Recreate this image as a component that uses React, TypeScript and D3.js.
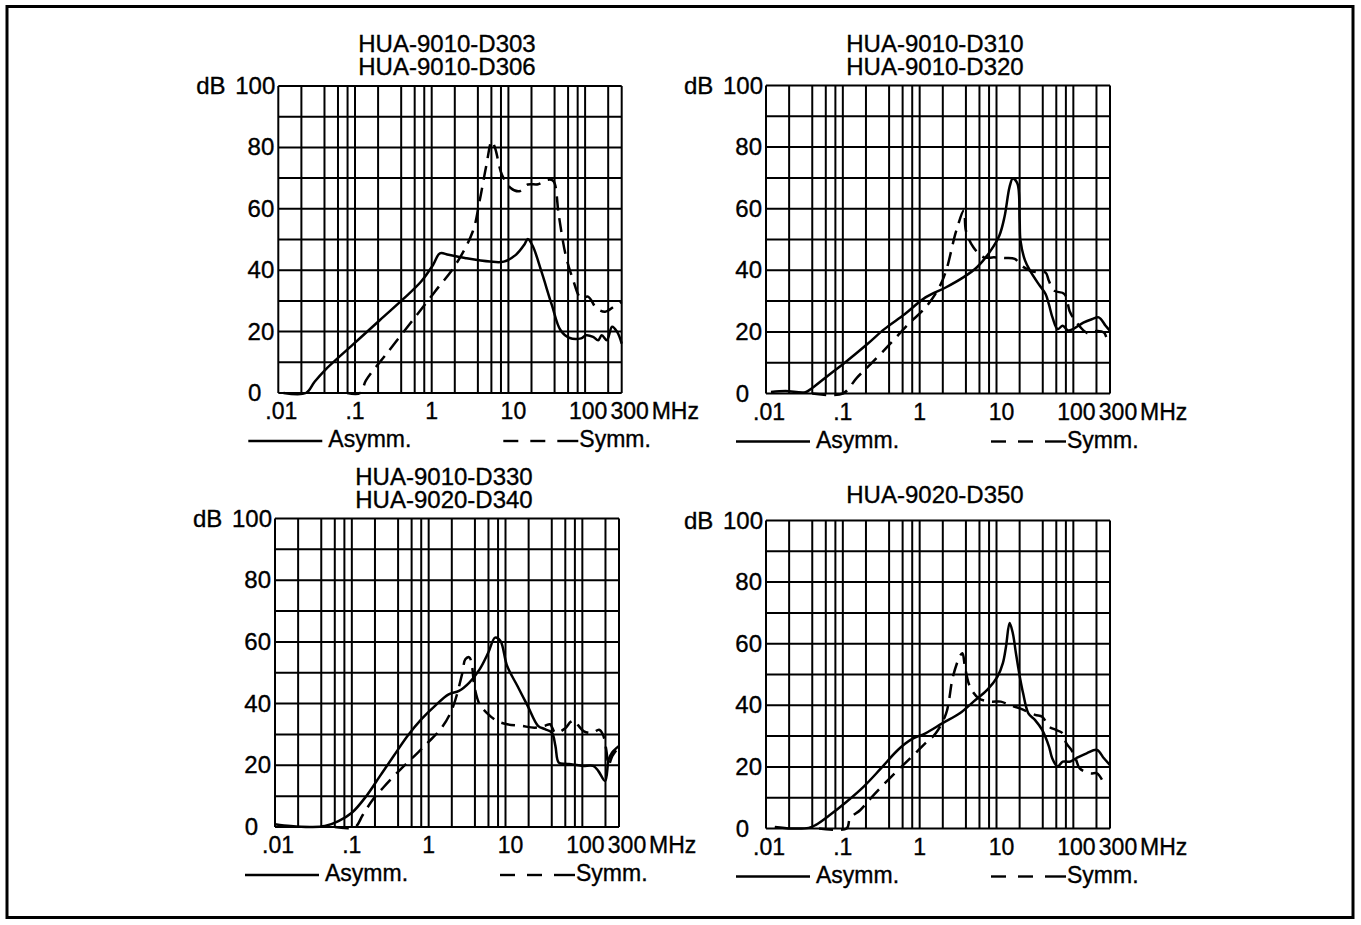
import React from "react";
import * as d3 from "d3";

type Pt = [number, number];

// ---------- Data (frequency MHz, attenuation dB) ----------
const xTickValues = [0.01, 0.1, 1, 10, 100, 300];
const xTickLabels = [".01", ".1", "1", "10", "100", "300"];
const yTickValues = [0, 20, 40, 60, 80];
const gridMultipliers = [1, 2, 4, 6, 8];
const gridDecades = [0.01, 0.1, 1, 10, 100];

const titles1 = ["HUA-9010-D303", "HUA-9010-D306"];
const titles2 = ["HUA-9010-D310", "HUA-9010-D320"];
const titles3 = ["HUA-9010-D330", "HUA-9020-D340"];
const titles4 = ["HUA-9020-D350"];

const asymm1: Pt[] = [
  [0.0117, 0], [0.0229, 0], [0.0296, 3.6], [0.0404, 7.4], [0.0922, 15.6], [0.21, 23.7],
  [0.434, 30.8], [0.728, 36.3], [1.04, 41.7], [1.28, 45.5], [1.66, 45], [2.79, 43.9],
  [5.74, 42.8], [8.7, 42.8], [12.5, 45], [16.1, 48.3], [17.9, 50.2], [20.9, 47.7],
  [27, 39.5], [36.9, 28.6], [47.7, 20.5], [61.8, 18], [88.7, 17.8], [103, 18.8],
  [127, 18.3], [148, 17.2], [165, 18.8], [192, 17.2], [225, 21.6], [262, 19.9], [300, 16.1],
];
const symm1: Pt[] = [
  [0.079, 0], [0.117, 0], [0.139, 4.1], [0.26, 12.9], [0.59, 24.3], [1.1, 33], [2.04, 41.7],
  [3.43, 52.6], [4.2, 62.4], [5.18, 74.4], [6.05, 82], [6.7, 79.8], [8.24, 71.1],
  [10.7, 66.8], [13.8, 65.7], [17.9, 67.9], [24.4, 68], [33.2, 69.5], [38.7, 69],
  [45.3, 58], [55.7, 45], [68.5, 37.4], [88.7, 30.8], [109, 31.4], [141, 27.6],
  [183, 26.5], [237, 28.1], [300, 29.7],
];

const asymm2: Pt[] = [
  [0.0116, 0.5], [0.018, 0.8], [0.0326, 0.4], [0.04, 1.8], [0.067, 6.2], [0.112, 10.5],
  [0.207, 16], [0.347, 20.9], [0.643, 25.8], [1.19, 31.2], [2.21, 34.5], [3.69, 37.7],
  [5.57, 41], [8.4, 46.4], [10.9, 51.3], [12.7, 57.3], [14.8, 67.1], [16.3, 69.8],
  [18.7, 68.2], [20, 56.2], [20.5, 49.7], [23.5, 43.2], [27.3, 39.9], [35.4, 35.5],
  [43.5, 32.3], [48, 29], [53.5, 24.7], [62.5, 20.9], [72.7, 22], [84.9, 20.5],
  [99, 20.9], [135, 23], [174, 24.1], [214, 24.7], [263, 22], [300, 20.3],
];
const symm2: Pt[] = [
  [0.04, 0], [0.1, 0], [0.152, 5.1], [0.23, 9.5], [0.426, 16.5], [0.71, 22.5],
  [1.19, 27.9], [1.8, 34.5], [2.21, 39.9], [3.0, 52.9], [3.77, 59.5], [4.0, 52.9],
  [5.0, 47.5], [6.84, 44.2], [9.3, 44.2], [12.7, 44], [17.3, 43.7], [21.2, 41.5],
  [27.3, 39.9], [35.4, 39.3], [43.5, 39.3], [48, 36.6], [56.2, 33.4], [76.6, 32.3],
  [89.3, 26.8], [99, 24.7], [135, 20.5], [157, 19.5], [203, 20.3], [250, 19.8],
  [277, 17.6], [300, 17],
];

const asymm3: Pt[] = [
  [0.01, 0.9], [0.016, 0.3], [0.0295, 0], [0.0446, 0.3], [0.067, 1.9], [0.1, 4.6],
  [0.154, 10], [0.232, 16.5], [0.35, 23], [0.53, 29.5], [0.8, 34.9], [1.2, 39.2],
  [1.82, 43], [2.48, 44.1], [3.38, 46.8], [4.6, 51.1], [5.96, 56.5], [7.33, 61.4],
  [8.6, 60.3], [10.5, 52.2], [14.3, 45.7], [19.5, 39.2], [26.5, 32.8], [32.6, 31.7],
  [40.1, 30.6], [44.6, 26.3], [49.3, 20.9], [60.6, 20.5], [74.5, 20.3], [101, 19.8],
  [138, 19.8], [161, 18.2], [198, 14.9], [220, 21.9], [243, 24.1], [300, 26.3],
];
const symm3: Pt[] = [
  [0.06, 0], [0.11, 0], [0.138, 3.8], [0.189, 9], [0.257, 12.8], [0.43, 18.7],
  [0.65, 23], [0.98, 27.4], [1.48, 32.2], [2.02, 38.2], [2.75, 50], [3.0, 54.4],
  [3.38, 55], [3.66, 52.2], [3.93, 45.7], [4.6, 39.8], [5.66, 37.1], [7.7, 34.4],
  [10.5, 33.3], [15.9, 32.8], [24, 32.2], [32.6, 32.8], [38, 33.3], [44.6, 30.6],
  [60, 32], [70, 34], [78, 34.5], [88, 33], [105, 31], [135, 30.5], [165, 31.5],
  [185, 30], [205, 25], [220, 20], [245, 23], [300, 26],
];

const asymm4: Pt[] = [
  [0.013, 0.5], [0.0216, 0], [0.036, 0.2], [0.044, 1.1], [0.067, 4.3], [0.112, 8.7],
  [0.187, 13.6], [0.313, 19.5], [0.52, 25.5], [0.79, 29], [1.19, 30.9], [1.99, 34.2],
  [3.33, 37.4], [5.02, 41.2], [7.57, 45], [10.3, 49.3], [12.1, 53.7], [13.3, 59.1],
  [14.8, 66.7], [16.3, 63.4], [17.9, 56.9], [20.1, 49.3], [22.2, 43.9], [26, 37.4],
  [31.8, 35.2], [39.3, 32], [48.2, 26.6], [53.1, 22.8], [62.4, 20.1], [72.8, 21.7],
  [89.3, 21.7], [109, 22.8], [149, 24.4], [203, 25.5], [250, 22.8], [300, 20.6],
];
const symm4: Pt[] = [
  [0.049, 0], [0.112, 0], [0.124, 3.3], [0.169, 6], [0.23, 9.8], [0.426, 16.8],
  [0.79, 23.3], [1.19, 27.7], [1.62, 30.9], [2.21, 37.4], [2.71, 49.3], [3.33, 55.9],
  [3.6, 56.9], [3.88, 52.6], [4.5, 46.1], [5.86, 42.3], [8.4, 41.2], [11.4, 41.2],
  [14.8, 40.1], [20.1, 39], [31.8, 36.9], [39.3, 36.3], [48.2, 33.1], [59.5, 32],
  [72.8, 30.9], [80.8, 27.7], [94.2, 25.5], [109, 22.2], [121, 19.5], [165, 17.9],
  [203, 17.9], [238, 15.7],
];

// ---------- Layout ----------
const panels = [
  { left: 278.3, right: 621.7, top: 86, bottom: 393, titles: titles1, asymm: asymm1, symm: symm1 },
  { left: 766, right: 1110, top: 85.5, bottom: 393.5, titles: titles2, asymm: asymm2, symm: symm2 },
  { left: 275, right: 619, top: 518.5, bottom: 827, titles: titles3, asymm: asymm3, symm: symm3 },
  { left: 766, right: 1110, top: 520.5, bottom: 828.5, titles: titles4, asymm: asymm4, symm: symm4 },
];

const FONT = "'Liberation Sans', Arial, Helvetica, sans-serif";
const TXT = { fontFamily: FONT, fill: "#000", stroke: "#000", strokeWidth: 0.35 };

function gridFreqs(): number[] {
  const out: number[] = [];
  gridDecades.forEach((d) => gridMultipliers.forEach((m) => {
    const v = d * m;
    if (v <= 300) out.push(v);
  }));
  out.push(300);
  return out;
}

const xLabelDx = [3, 0, 0, 5, 3, 8];

function Panel({ p }: { p: (typeof panels)[number] }) {
  const x = d3.scaleLog().domain([0.01, 300]).range([p.left, p.right]);
  const y = d3.scaleLinear().domain([0, 100]).range([p.bottom, p.top]);
  const line = d3
    .line<Pt>()
    .x((d) => x(d[0]))
    .y((d) => y(d[1]))
    .curve(d3.curveCatmullRom.alpha(0.5));
  const cx = (p.left + p.right) / 2 - 3;
  const hLines = d3.range(0, 101, 10);
  const vLines = gridFreqs();
  const legY = p.bottom + 48;
  const tCount = p.titles.length;
  return (
    <g>
      {p.titles.map((t, i) => (
        <text
          key={t}
          x={cx}
          y={p.top - (tCount === 1 ? 18 : 34 - i * 23)}
          textAnchor="middle"
          fontSize={24}
          {...TXT}
        >
          {t}
        </text>
      ))}
      {hLines.map((v) => (
        <line key={"h" + v} x1={p.left} x2={p.right} y1={y(v)} y2={y(v)} stroke="#000" strokeWidth={2} />
      ))}
      {vLines.map((v) => (
        <line key={"v" + v} x1={x(v)} x2={x(v)} y1={p.top} y2={p.bottom} stroke="#000" strokeWidth={2} />
      ))}
      <path d={line(p.asymm) || ""} fill="none" stroke="#000" strokeWidth={2.5} strokeLinejoin="round" />
      <path
        d={line(p.symm) || ""}
        fill="none"
        stroke="#000"
        strokeWidth={2.5}
        strokeDasharray="14 8"
        strokeLinejoin="round"
      />
      {yTickValues.map((v) => (
        <text
          key={"y" + v}
          x={v === 0 ? p.left - 17 : p.left - 4}
          y={y(v) + 8}
          textAnchor="end"
          fontSize={24}
          {...TXT}
        >
          {String(v)}
        </text>
      ))}
      <text x={p.left - 3} y={y(100) + 8} textAnchor="end" fontSize={24} {...TXT}>
        dB<tspan dx={3}> 100</tspan>
      </text>
      {xTickValues.map((v, i) => (
        <text
          key={"x" + v}
          x={x(v) + xLabelDx[i]}
          y={p.bottom + 26}
          textAnchor="middle"
          fontSize={23}
          {...TXT}
        >
          {xTickLabels[i]}
        </text>
      ))}
      <text x={p.right + 30} y={p.bottom + 26} fontSize={23} {...TXT}>
        MHz
      </text>
      <line x1={p.left - 30} x2={p.left + 44} y1={legY} y2={legY} stroke="#000" strokeWidth={2.4} />
      <text x={p.left + 50} y={legY + 6} fontSize={23} {...TXT}>
        Asymm.
      </text>
      {[[225, 240], [252, 267], [279, 300]].map(([a, b]) => (
        <line key={"d" + a} x1={p.left + a} x2={p.left + b} y1={legY} y2={legY} stroke="#000" strokeWidth={2.4} />
      ))}
      <text x={p.left + 301} y={legY + 6} fontSize={23} {...TXT}>
        Symm.
      </text>
    </g>
  );
}

export default function App() {
  return (
    <svg
      width={1361}
      height={925}
      viewBox="0 0 1361 925"
      style={{ position: "absolute", left: 0, top: 0, background: "#fff" }}
    >
      <rect x={0} y={0} width={1361} height={925} fill="#fff" />
      <rect x={7} y={6.5} width={1346} height={911} fill="none" stroke="#000" strokeWidth={3} />
      {panels.map((p, i) => (
        <Panel key={i} p={p} />
      ))}
    </svg>
  );
}
